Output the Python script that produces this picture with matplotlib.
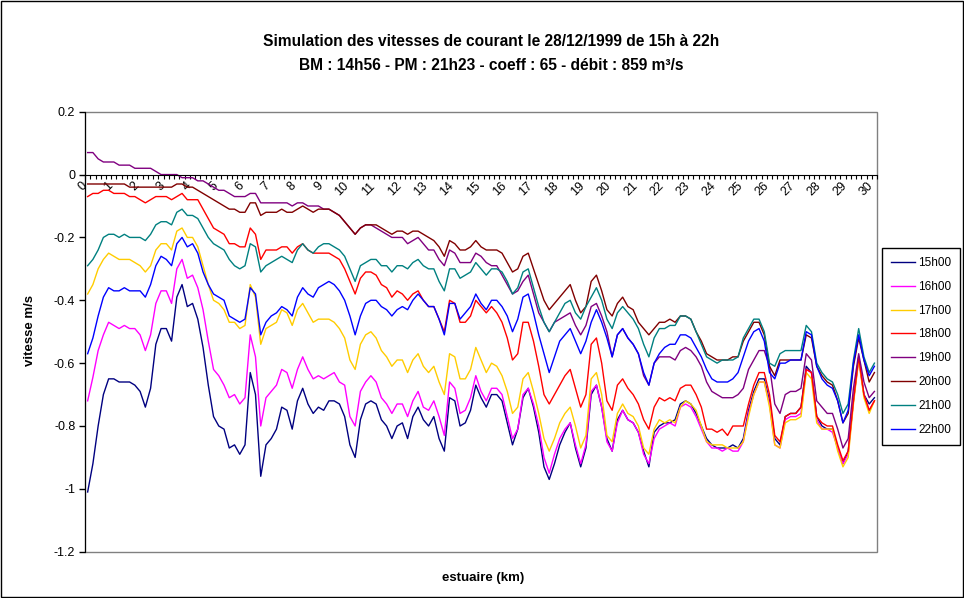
import numpy as np
import matplotlib.pyplot as plt
import matplotlib.transforms as mtransforms
from matplotlib.patches import Rectangle

plt.rcParams['font.family'] = ['Liberation Sans', 'DejaVu Sans']

# distance along the estuary, one value every 0.2 km
km = np.round(np.arange(151) * 0.2, 1)

v15 = [-1.01, -0.92, -0.80, -0.70, -0.65, -0.65, -0.66, -0.66, -0.66, -0.67, -0.69, -0.74, -0.68, -0.54, -0.49, -0.49, -0.53, -0.39, -0.35, -0.42, -0.41, -0.46, -0.55, -0.67, -0.77,
       -0.80, -0.81, -0.87, -0.86, -0.89, -0.86, -0.63, -0.70, -0.96, -0.86, -0.84, -0.81, -0.74, -0.75, -0.81, -0.72, -0.68, -0.73, -0.76, -0.74, -0.75, -0.72, -0.72, -0.73, -0.77,
       -0.86, -0.90, -0.78, -0.73, -0.72, -0.73, -0.78, -0.80, -0.84, -0.80, -0.79, -0.84, -0.77, -0.74, -0.78, -0.80, -0.77, -0.84, -0.88, -0.71, -0.72, -0.80, -0.79, -0.75, -0.67,
       -0.71, -0.74, -0.70, -0.70, -0.72, -0.79, -0.86, -0.81, -0.71, -0.68, -0.74, -0.82, -0.93, -0.97, -0.92, -0.86, -0.82, -0.79, -0.87, -0.93, -0.87, -0.70, -0.67, -0.74, -0.84,
       -0.88, -0.78, -0.75, -0.78, -0.79, -0.82, -0.88, -0.93, -0.82, -0.80, -0.79, -0.79, -0.78, -0.73, -0.72, -0.73, -0.76, -0.80, -0.84, -0.86, -0.87, -0.87, -0.87, -0.86,
       -0.87, -0.84, -0.75, -0.69, -0.65, -0.65, -0.72, -0.84, -0.86, -0.77, -0.76, -0.76, -0.74, -0.61, -0.63, -0.77, -0.80, -0.81, -0.81, -0.87, -0.92, -0.88, -0.72, -0.58, -0.70, -0.73, -0.71]

v16 = [-0.72, -0.645, -0.56, -0.51, -0.47, -0.48, -0.49, -0.48, -0.49, -0.49, -0.51, -0.56, -0.51, -0.41, -0.37, -0.37, -0.41, -0.30, -0.27, -0.33, -0.32, -0.36, -0.43, -0.53, -0.62,
       -0.64, -0.67, -0.71, -0.70, -0.73, -0.71, -0.51, -0.58, -0.80, -0.71, -0.69, -0.67, -0.62, -0.63, -0.68, -0.62, -0.58, -0.62, -0.65, -0.64, -0.65, -0.64, -0.63, -0.66, -0.67,
       -0.77, -0.80, -0.69, -0.66, -0.64, -0.66, -0.71, -0.73, -0.76, -0.73, -0.73, -0.77, -0.72, -0.69, -0.74, -0.75, -0.72, -0.77, -0.83, -0.66, -0.68, -0.76, -0.75, -0.71, -0.64,
       -0.69, -0.72, -0.68, -0.68, -0.70, -0.77, -0.84, -0.81, -0.70, -0.68, -0.73, -0.80, -0.90, -0.95, -0.89, -0.84, -0.81, -0.79, -0.86, -0.92, -0.86, -0.69, -0.67, -0.74, -0.85,
       -0.88, -0.79, -0.75, -0.78, -0.79, -0.82, -0.89, -0.92, -0.84, -0.81, -0.80, -0.79, -0.80, -0.74, -0.73, -0.74, -0.77, -0.81, -0.85, -0.87, -0.87, -0.88, -0.87, -0.88,
       -0.88, -0.85, -0.76, -0.70, -0.66, -0.66, -0.73, -0.86, -0.87, -0.78, -0.77, -0.77, -0.76, -0.62, -0.63, -0.78, -0.81, -0.81, -0.82, -0.87, -0.92, -0.89, -0.72, -0.59, -0.70, -0.75, -0.72]

v17 = [-0.38, -0.35, -0.30, -0.27, -0.25, -0.26, -0.27, -0.27, -0.27, -0.28, -0.29, -0.31, -0.29, -0.24, -0.22, -0.22, -0.24, -0.18, -0.17, -0.20, -0.20, -0.23, -0.29, -0.35, -0.40,
       -0.41, -0.43, -0.47, -0.47, -0.49, -0.48, -0.35, -0.39, -0.54, -0.49, -0.48, -0.47, -0.43, -0.44, -0.48, -0.43, -0.41, -0.44, -0.47, -0.46, -0.46, -0.46, -0.47, -0.49, -0.52,
       -0.59, -0.62, -0.54, -0.51, -0.50, -0.52, -0.56, -0.58, -0.61, -0.59, -0.59, -0.63, -0.59, -0.57, -0.61, -0.63, -0.61, -0.66, -0.70, -0.57, -0.58, -0.65, -0.65, -0.62, -0.55,
       -0.59, -0.63, -0.60, -0.61, -0.64, -0.69, -0.76, -0.74, -0.65, -0.63, -0.69, -0.76, -0.84, -0.88, -0.84, -0.79, -0.76, -0.74, -0.80, -0.87, -0.83, -0.65, -0.63, -0.70, -0.83,
       -0.85, -0.76, -0.73, -0.76, -0.77, -0.80, -0.87, -0.89, -0.81, -0.78, -0.79, -0.78, -0.79, -0.74, -0.72, -0.73, -0.75, -0.80, -0.85, -0.86, -0.86, -0.86, -0.87, -0.87,
       -0.87, -0.85, -0.77, -0.70, -0.66, -0.66, -0.74, -0.86, -0.87, -0.79, -0.78, -0.78, -0.77, -0.63, -0.65, -0.79, -0.81, -0.81, -0.81, -0.88, -0.93, -0.90, -0.73, -0.59, -0.71, -0.76, -0.72]

v18 = [-0.07, -0.06, -0.06, -0.05, -0.05, -0.06, -0.06, -0.06, -0.07, -0.07, -0.08, -0.09, -0.08, -0.07, -0.07, -0.07, -0.08, -0.07, -0.06, -0.08, -0.08, -0.08, -0.11, -0.14, -0.17,
       -0.18, -0.19, -0.22, -0.22, -0.23, -0.23, -0.17, -0.19, -0.27, -0.24, -0.24, -0.24, -0.23, -0.23, -0.25, -0.23, -0.22, -0.24, -0.25, -0.25, -0.25, -0.25, -0.26, -0.27, -0.30,
       -0.34, -0.38, -0.33, -0.31, -0.31, -0.32, -0.35, -0.36, -0.39, -0.37, -0.38, -0.40, -0.38, -0.37, -0.40, -0.42, -0.42, -0.46, -0.50, -0.40, -0.41, -0.47, -0.47, -0.45, -0.40,
       -0.42, -0.44, -0.42, -0.44, -0.47, -0.52, -0.59, -0.57, -0.47, -0.47, -0.53, -0.61, -0.70, -0.73, -0.70, -0.67, -0.64, -0.62, -0.68, -0.74, -0.70, -0.54, -0.52, -0.60, -0.72,
       -0.75, -0.67, -0.65, -0.68, -0.70, -0.73, -0.78, -0.81, -0.74, -0.71, -0.72, -0.71, -0.72, -0.68, -0.67, -0.67, -0.70, -0.74, -0.81, -0.81, -0.82, -0.81, -0.83, -0.80,
       -0.80, -0.80, -0.73, -0.67, -0.63, -0.63, -0.70, -0.83, -0.85, -0.77, -0.76, -0.76, -0.74, -0.62, -0.63, -0.77, -0.79, -0.80, -0.80, -0.86, -0.91, -0.88, -0.72, -0.58, -0.70, -0.75, -0.72]

v19 = [0.07, 0.07, 0.05, 0.04, 0.04, 0.04, 0.03, 0.03, 0.03, 0.02, 0.02, 0.02, 0.02, 0.01, 0.0, 0.0, 0.0, 0.0, -0.01, -0.01, -0.01, -0.02, -0.02, -0.03, -0.04,
       -0.05, -0.05, -0.06, -0.07, -0.07, -0.07, -0.06, -0.06, -0.09, -0.09, -0.09, -0.09, -0.09, -0.09, -0.10, -0.09, -0.09, -0.10, -0.10, -0.10, -0.11, -0.11, -0.12, -0.13, -0.15,
       -0.17, -0.19, -0.17, -0.16, -0.16, -0.17, -0.18, -0.19, -0.20, -0.20, -0.20, -0.22, -0.21, -0.20, -0.22, -0.24, -0.24, -0.27, -0.29, -0.24, -0.25, -0.28, -0.28, -0.28, -0.25,
       -0.26, -0.28, -0.29, -0.29, -0.32, -0.35, -0.38, -0.37, -0.34, -0.32, -0.38, -0.44, -0.47, -0.50, -0.47, -0.46, -0.45, -0.44, -0.48, -0.51, -0.48, -0.42, -0.41, -0.45, -0.50,
       -0.58, -0.51, -0.49, -0.52, -0.54, -0.57, -0.64, -0.67, -0.60, -0.58, -0.58, -0.58, -0.59, -0.56, -0.55, -0.56, -0.58, -0.61, -0.66, -0.69, -0.70, -0.71, -0.71, -0.71,
       -0.70, -0.68, -0.62, -0.59, -0.56, -0.56, -0.61, -0.73, -0.76, -0.70, -0.69, -0.69, -0.68, -0.57, -0.59, -0.72, -0.74, -0.76, -0.76, -0.81, -0.87, -0.84, -0.68, -0.57, -0.66, -0.71, -0.69]

v20 = [-0.03, -0.03, -0.03, -0.03, -0.03, -0.03, -0.03, -0.03, -0.04, -0.04, -0.04, -0.04, -0.04, -0.04, -0.04, -0.04, -0.04, -0.03, -0.03, -0.04, -0.04, -0.05, -0.06, -0.07, -0.08,
       -0.09, -0.10, -0.11, -0.11, -0.12, -0.12, -0.09, -0.09, -0.13, -0.12, -0.12, -0.12, -0.11, -0.12, -0.12, -0.11, -0.10, -0.11, -0.12, -0.11, -0.11, -0.11, -0.12, -0.13, -0.15,
       -0.17, -0.19, -0.17, -0.16, -0.16, -0.16, -0.17, -0.18, -0.19, -0.18, -0.18, -0.19, -0.18, -0.18, -0.19, -0.20, -0.21, -0.23, -0.26, -0.21, -0.22, -0.24, -0.24, -0.23, -0.21,
       -0.23, -0.24, -0.24, -0.24, -0.25, -0.28, -0.31, -0.30, -0.26, -0.25, -0.30, -0.35, -0.40, -0.43, -0.41, -0.39, -0.37, -0.35, -0.40, -0.44, -0.42, -0.34, -0.32, -0.37, -0.43,
       -0.45, -0.41, -0.39, -0.42, -0.43, -0.47, -0.49, -0.51, -0.49, -0.47, -0.47, -0.46, -0.47, -0.45, -0.45, -0.46, -0.50, -0.53, -0.57, -0.58, -0.59, -0.59, -0.59, -0.58,
       -0.58, -0.53, -0.50, -0.47, -0.47, -0.51, -0.61, -0.64, -0.59, -0.59, -0.59, -0.59, -0.59, -0.51, -0.52, -0.61, -0.64, -0.66, -0.67, -0.72, -0.79, -0.76, -0.61, -0.52, -0.59, -0.66, -0.63]

v21 = [-0.29, -0.27, -0.24, -0.20, -0.19, -0.19, -0.20, -0.19, -0.20, -0.20, -0.20, -0.21, -0.19, -0.16, -0.15, -0.15, -0.16, -0.12, -0.11, -0.13, -0.13, -0.14, -0.17, -0.20, -0.22,
       -0.23, -0.24, -0.27, -0.29, -0.30, -0.29, -0.22, -0.23, -0.31, -0.29, -0.28, -0.27, -0.26, -0.27, -0.28, -0.24, -0.22, -0.24, -0.25, -0.23, -0.22, -0.22, -0.23, -0.24, -0.26,
       -0.30, -0.34, -0.29, -0.28, -0.27, -0.27, -0.29, -0.29, -0.31, -0.29, -0.29, -0.30, -0.28, -0.27, -0.29, -0.30, -0.30, -0.34, -0.37, -0.30, -0.30, -0.33, -0.32, -0.31, -0.28,
       -0.30, -0.32, -0.30, -0.30, -0.31, -0.34, -0.38, -0.36, -0.31, -0.30, -0.36, -0.42, -0.47, -0.50, -0.47, -0.44, -0.41, -0.40, -0.44, -0.46, -0.42, -0.39, -0.36, -0.40, -0.46,
       -0.49, -0.44, -0.42, -0.44, -0.46, -0.49, -0.54, -0.58, -0.52, -0.49, -0.49, -0.48, -0.48, -0.45, -0.45, -0.46, -0.50, -0.54, -0.58, -0.59, -0.60, -0.59, -0.59, -0.59,
       -0.58, -0.52, -0.49, -0.46, -0.46, -0.50, -0.60, -0.61, -0.57, -0.56, -0.56, -0.56, -0.56, -0.48, -0.50, -0.60, -0.63, -0.65, -0.66, -0.70, -0.76, -0.73, -0.59, -0.49, -0.58, -0.63, -0.60]

v22 = [-0.57, -0.52, -0.45, -0.39, -0.36, -0.37, -0.37, -0.36, -0.37, -0.37, -0.37, -0.39, -0.35, -0.29, -0.26, -0.27, -0.29, -0.22, -0.20, -0.23, -0.22, -0.25, -0.31, -0.35, -0.38,
       -0.39, -0.40, -0.45, -0.46, -0.47, -0.46, -0.36, -0.38, -0.51, -0.47, -0.45, -0.44, -0.42, -0.43, -0.45, -0.39, -0.36, -0.38, -0.39, -0.36, -0.35, -0.34, -0.35, -0.37, -0.40,
       -0.45, -0.51, -0.45, -0.41, -0.40, -0.40, -0.42, -0.43, -0.45, -0.43, -0.42, -0.43, -0.40, -0.38, -0.40, -0.42, -0.42, -0.46, -0.51, -0.41, -0.41, -0.46, -0.44, -0.42, -0.38,
       -0.41, -0.43, -0.40, -0.40, -0.42, -0.45, -0.50, -0.46, -0.39, -0.38, -0.44, -0.51, -0.57, -0.63, -0.58, -0.53, -0.51, -0.49, -0.53, -0.57, -0.53, -0.47, -0.43, -0.47, -0.52,
       -0.58, -0.51, -0.49, -0.52, -0.54, -0.57, -0.63, -0.67, -0.60, -0.57, -0.55, -0.54, -0.54, -0.51, -0.51, -0.52, -0.55, -0.58, -0.62, -0.65, -0.66, -0.66, -0.66, -0.65,
       -0.63, -0.58, -0.53, -0.50, -0.49, -0.53, -0.63, -0.65, -0.60, -0.60, -0.59, -0.59, -0.59, -0.50, -0.51, -0.61, -0.65, -0.67, -0.68, -0.72, -0.79, -0.75, -0.60, -0.51, -0.59, -0.64, -0.61]

labels = ['15h00', '16h00', '17h00', '18h00', '19h00', '20h00', '21h00', '22h00']
values = [v15, v16, v17, v18, v19, v20, v21, v22]
colors = ['#000080', '#FF00FF', '#FFCC00', '#FF0000', '#800080', '#800000', '#008080', '#0000FF']

ytick_vals = [-1.2, -1.0, -0.8, -0.6, -0.4, -0.2, 0.0, 0.2]
ytick_txt = ['-1.2', '-1', '-0.8', '-0.6', '-0.4', '-0.2', '0', '0.2']

fig = plt.figure(figsize=(9.64, 5.98), dpi=100)
ax = fig.add_axes([0.0882, 0.0774, 0.8216, 0.7358])

for lab, v, c in zip(labels, values, colors):
    ax.plot(km, v, color=c, lw=1.0, label=lab)

ax.set_xlim(-0.1, 30.1)
ax.set_ylim(-1.2, 0.2)
ax.set_yticks(ytick_vals)
ax.set_yticklabels(ytick_txt, fontsize=9)
ax.tick_params(axis='y', direction='out', length=4, width=1, color='black', pad=3)

# category axis crossing at 0
ax.spines['bottom'].set_position(('data', 0))
ax.spines['bottom'].set_color('black')
ax.spines['left'].set_color('black')
ax.spines['top'].set_visible(False)
ax.spines['right'].set_visible(False)
ax.set_xticks(np.arange(0, 31))
ax.set_xticklabels([str(k) for k in range(31)], fontsize=9, rotation=45,
                   ha='right', va='top', rotation_mode='anchor')
ax.set_xticks(np.append(km - 0.1, km[-1] + 0.1), minor=True)
ax.tick_params(axis='x', which='major', length=0, pad=4)
ax.tick_params(axis='x', which='minor', direction='out', length=3, width=0.8, color='black')
shift = mtransforms.ScaledTranslation(-0.07, 0, fig.dpi_scale_trans)
for t in ax.get_xticklabels():
    t.set_transform(t.get_transform() + shift)

ax.add_patch(Rectangle((0, 0), 1, 1, transform=ax.transAxes, fill=False,
                       edgecolor='#808080', lw=1, clip_on=False, zorder=0))

fig.text(491 / 964, 1 - 41 / 598, 'Simulation des vitesses de courant le 28/12/1999 de 15h à 22h',
         ha='center', va='center', fontsize=11.2, fontweight='bold')
fig.text(491 / 964, 1 - 65 / 598, 'BM : 14h56 - PM : 21h23 - coeff : 65 - débit : 859 m³/s',
         ha='center', va='center', fontsize=11.2, fontweight='bold')
fig.text(483 / 964, 1 - 578 / 598, 'estuaire (km)', ha='center', va='center',
         fontsize=9.5, fontweight='bold')
fig.text(30 / 964, 1 - 331 / 598, 'vitesse m/s', ha='center', va='center',
         rotation=90, fontsize=9.5, fontweight='bold')

leg = ax.legend(loc='upper left', bbox_to_anchor=(0.915, 0.585), bbox_transform=fig.transFigure,
                fancybox=False, edgecolor='black', framealpha=1, fontsize=8.5,
                labelspacing=1.0, handlelength=2.0, handletextpad=0.3,
                borderpad=0.75, borderaxespad=0)
leg.get_frame().set_linewidth(1.0)

fig.patches.append(Rectangle((0.001, 0.001), 0.998, 0.998, transform=fig.transFigure,
                             fill=False, edgecolor='black', lw=1))

fig.savefig('out.png', dpi=100)
